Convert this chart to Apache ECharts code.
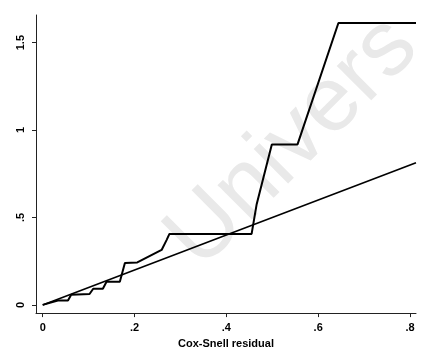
<!DOCTYPE html>
<html>
<head>
<meta charset="utf-8">
<script src="https://cdn.jsdelivr.net/npm/echarts@6/dist/echarts.min.js"></script>
<style>
html,body{margin:0;padding:0;background:#fff;}
#c{width:426px;height:354px;}
</style>
</head>
<body>
<div id="c"></div>
<script>
// Nelson-Aalen cumulative hazard vs Cox-Snell residual
var hazardX = [0, 0.033, 0.055, 0.062, 0.102, 0.110, 0.131, 0.139, 0.168, 0.179, 0.206, 0.259, 0.270, 0.276, 0.455, 0.466, 0.499, 0.555, 0.644, 0.813];
var hazardY = [0, 0.025, 0.025, 0.058, 0.062, 0.092, 0.092, 0.132, 0.132, 0.239, 0.243, 0.314, 0.372, 0.406, 0.406, 0.576, 0.918, 0.918, 1.612, 1.612];
// 45-degree reference line
var refX = [0, 0.813];
var refY = [0, 0.813];
// tick labels
var xTicks = [0, 0.2, 0.4, 0.6, 0.8];
var yTicks = [0, 0.5, 1, 1.5];
var xTitle = 'Cox-Snell residual';
var watermark = 'Univers';

function pairs(xs, ys) { return xs.map(function (x, i) { return [x, ys[i]]; }); }
function stripZero(v) {
  var s = String(Math.round(v * 10) / 10);
  return s.replace(/^0\./, '.');
}

var chart = echarts.init(document.getElementById('c'), null, { renderer: 'canvas' });
var font = 'Liberation Sans, Arial, sans-serif';
chart.setOption({
  backgroundColor: '#fff',
  animation: false,
  graphic: [{
    type: 'text',
    left: 150, top: 0,
    z: -10,
    silent: true,
    x: 0, y: 0,
    position: [290, 130],
    rotation: Math.PI / 4,
    style: {
      text: watermark,
      font: '92px Liberation Sans, Arial, sans-serif',
      fill: '#e9e9e9',
      textAlign: 'center',
      textVerticalAlign: 'middle'
    }
  }],
  grid: { left: 36, right: 10, top: 15, bottom: 32, containLabel: false },
  xAxis: {
    type: 'value',
    min: -0.0146, max: 0.813,
    splitLine: { show: false },
    axisLine: { show: true, onZero: false, lineStyle: { color: '#222', width: 1 } },
    axisTick: { show: true, length: 4, customValues: xTicks, lineStyle: { color: '#222' } },
    axisLabel: {
      customValues: xTicks, margin: 9, color: '#000',
      fontFamily: font, fontSize: 11, fontWeight: 'bold',
      formatter: stripZero
    },
    name: xTitle, nameLocation: 'middle', nameGap: 17,
    nameTextStyle: { color: '#000', fontFamily: font, fontSize: 11, fontWeight: 'bold', verticalAlign: 'top' }
  },
  yAxis: {
    type: 'value',
    min: -0.047, max: 1.658,
    splitLine: { show: false },
    axisLine: { show: true, onZero: false, lineStyle: { color: '#222', width: 1 } },
    axisTick: { show: true, length: 4, customValues: yTicks, lineStyle: { color: '#222' } },
    axisLabel: {
      customValues: yTicks, margin: 10, color: '#000', rotate: 90,
      align: 'center', verticalAlign: 'bottom',
      fontFamily: font, fontSize: 11, fontWeight: 'bold',
      formatter: stripZero
    }
  },
  series: [{
    type: 'line',
    data: pairs(hazardX, hazardY),
    showSymbol: false,
    lineStyle: { color: '#000', width: 2 },
    z: 3
  }, {
    type: 'line',
    data: pairs(refX, refY),
    showSymbol: false,
    lineStyle: { color: '#000', width: 1.6 },
    z: 2
  }]
});
</script>
</body>
</html>
